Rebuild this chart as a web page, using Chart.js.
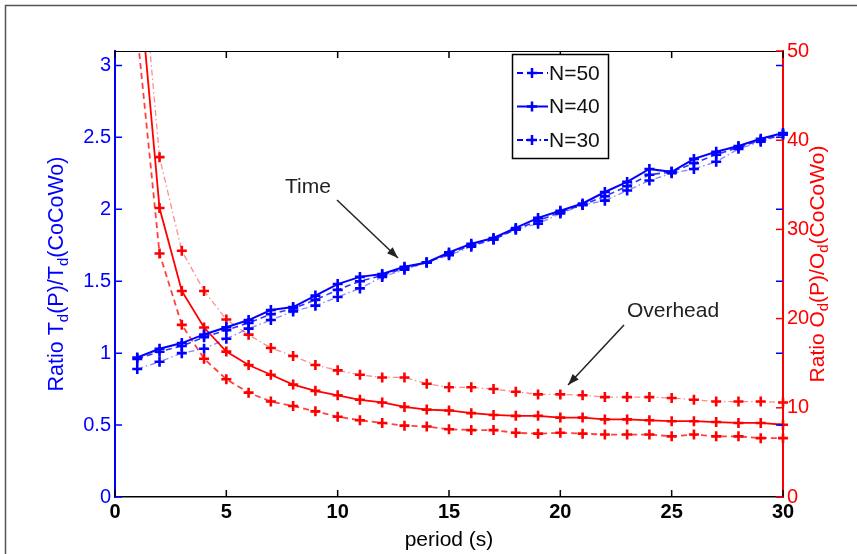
<!DOCTYPE html>
<html>
<head>
<meta charset="utf-8">
<script src="https://cdn.jsdelivr.net/npm/chart.js@4.4.1/dist/chart.umd.min.js"></script>
<style>
  html, body { margin: 0; padding: 0; background: #fff; }
  #wrap { width: 857px; height: 554px; position: relative; }
</style>
</head>
<body>
<div id="wrap"><canvas id="grafico"></canvas></div>
<script>
// --- DATOS ---
const periods = [1, 2, 3, 4, 5, 6, 7, 8, 9, 10, 11, 12, 13, 14, 15, 16, 17, 18, 19, 20, 21, 22, 23, 24, 25, 26, 27, 28, 29, 30];
const seriesNames = ['N=50', 'N=40', 'N=30'];

// ratio of time (left axis)
const timeN50 = [0.96, 1.01, 1.05, 1.11, 1.16, 1.21, 1.27, 1.31, 1.37, 1.44, 1.50, 1.54, 1.59, 1.63, 1.69, 1.75, 1.79, 1.86, 1.92, 1.98, 2.03, 2.09, 2.16, 2.24, 2.26, 2.32, 2.38, 2.43, 2.48, 2.52];
const timeN40 = [0.97, 1.03, 1.07, 1.13, 1.18, 1.23, 1.30, 1.32, 1.40, 1.48, 1.53, 1.55, 1.60, 1.63, 1.70, 1.76, 1.80, 1.87, 1.94, 1.99, 2.04, 2.12, 2.19, 2.28, 2.26, 2.35, 2.40, 2.44, 2.49, 2.53];
const timeN30 = [0.89, 0.94, 1.00, 1.03, 1.10, 1.17, 1.23, 1.29, 1.33, 1.39, 1.45, 1.53, 1.58, 1.63, 1.68, 1.74, 1.79, 1.86, 1.90, 1.97, 2.03, 2.06, 2.13, 2.20, 2.25, 2.28, 2.33, 2.42, 2.47, 2.52];

// ratio of overhead (right axis)
const overN50 = [52, 27.3, 19.3, 15.5, 13.2, 11.7, 10.7, 10.2, 9.6, 9.0, 8.6, 8.3, 8.0, 7.9, 7.6, 7.5, 7.5, 7.2, 7.1, 7.2, 7.1, 7.0, 7.0, 7.0, 6.8, 7.0, 6.8, 6.8, 6.6, 6.6];
const overN40 = [60, 32.4, 23.1, 19.0, 16.3, 14.8, 13.7, 12.6, 11.9, 11.4, 10.9, 10.6, 10.1, 9.8, 9.7, 9.4, 9.2, 9.1, 9.1, 8.9, 8.9, 8.7, 8.7, 8.6, 8.5, 8.5, 8.4, 8.3, 8.3, 8.1];
const overN30 = [66, 38.1, 27.6, 23.1, 19.9, 18.2, 16.7, 15.8, 14.8, 14.2, 13.7, 13.4, 13.4, 12.7, 12.3, 12.3, 12.1, 11.8, 11.5, 11.5, 11.4, 11.2, 11.2, 11.2, 11.1, 10.9, 10.7, 10.7, 10.7, 10.6];

const xTicks = [0, 5, 10, 15, 20, 25, 30];
const leftTicks = [0, 0.5, 1, 1.5, 2, 2.5, 3];
const rightTicks = [0, 10, 20, 30, 40, 50];

const AZUL = '#0000ff';
const ROJO = '#ff0000';
const FUENTE = '"Liberation Sans", Arial, Helvetica, sans-serif';

const DASHED = [6, 4];
const DASHDOT = [6, 3, 1.5, 3];

function pares(valores) {
    return periods.map((p, i) => ({ x: p, y: valores[i] }));
}

function serie(label, valores, eje, color, lineColor, dash, width) {
    return {
        label: label,
        data: pares(valores),
        yAxisID: eje,
        borderColor: lineColor,
        borderWidth: width,
        borderDash: dash,
        pointStyle: 'cross',
        pointRadius: 5,
        pointBorderWidth: 2.6,
        pointBorderColor: color,
        pointBackgroundColor: color,
        fill: false,
        tension: 0,
        clip: { left: 10, right: 10, top: 0, bottom: 10 }
    };
}

const datasets = [
    serie(seriesNames[0], timeN50, 'yL', AZUL, 'rgba(0,0,255,0.8)', DASHED, 1.6),
    serie(seriesNames[1], timeN40, 'yL', AZUL, AZUL, [], 2),
    serie(seriesNames[2], timeN30, 'yL', AZUL, 'rgba(0,0,255,0.45)', DASHDOT, 1.4),
    serie(seriesNames[0] + ' overhead', overN50, 'yR', ROJO, 'rgba(255,0,0,0.75)', DASHED, 1.8),
    serie(seriesNames[1] + ' overhead', overN40, 'yR', ROJO, ROJO, [], 1.8),
    serie(seriesNames[2] + ' overhead', overN30, 'yR', ROJO, 'rgba(255,0,0,0.45)', DASHDOT, 1.3)
];

// texto con subíndices
function textoSub(ctx, partes, size) {
    let total = 0;
    partes.forEach(([t, sub]) => {
        ctx.font = (sub ? Math.round(size * 0.7) : size) + 'px ' + FUENTE;
        total += ctx.measureText(t).width;
    });
    let x = -total / 2;
    partes.forEach(([t, sub]) => {
        ctx.font = (sub ? Math.round(size * 0.7) : size) + 'px ' + FUENTE;
        ctx.fillText(t, x, sub ? size * 0.3 : 0);
        x += ctx.measureText(t).width;
    });
}

function flecha(ctx, x1, y1, x2, y2) {
    const ang = Math.atan2(y2 - y1, x2 - x1);
    ctx.beginPath();
    ctx.moveTo(x1, y1);
    ctx.lineTo(x2, y2);
    ctx.stroke();
    ctx.beginPath();
    ctx.moveTo(x2, y2);
    ctx.lineTo(x2 - 12 * Math.cos(ang - 0.35), y2 - 12 * Math.sin(ang - 0.35));
    ctx.lineTo(x2 - 12 * Math.cos(ang + 0.35), y2 - 12 * Math.sin(ang + 0.35));
    ctx.closePath();
    ctx.fill();
}

const extras = {
    id: 'extras',
    afterDraw(chart) {
        const ctx = chart.ctx;
        const a = chart.chartArea;
        const sx = chart.scales.x, sl = chart.scales.yL, sr = chart.scales.yR;
        ctx.save();

        // marco exterior
        ctx.strokeStyle = '#555';
        ctx.lineWidth = 1.5;
        ctx.strokeRect(5.5, 5.5, 900, 600);

        // borde superior del gráfico
        ctx.strokeStyle = '#000';
        ctx.lineWidth = 1.2;
        ctx.beginPath();
        ctx.moveTo(a.left, a.top + 0.5);
        ctx.lineTo(a.right, a.top + 0.5);
        ctx.stroke();

        // marcas hacia dentro
        const L = 7;
        ctx.lineWidth = 1.5;
        ctx.strokeStyle = '#000';
        xTicks.forEach(v => {
            const px = sx.getPixelForValue(v);
            ctx.beginPath();
            ctx.moveTo(px, a.bottom); ctx.lineTo(px, a.bottom - L);
            ctx.moveTo(px, a.top); ctx.lineTo(px, a.top + L);
            ctx.stroke();
        });
        ctx.strokeStyle = AZUL;
        leftTicks.forEach(v => {
            const py = sl.getPixelForValue(v);
            ctx.beginPath();
            ctx.moveTo(a.left, py); ctx.lineTo(a.left + L, py);
            ctx.moveTo(a.right, py); ctx.lineTo(a.right - L, py);
            ctx.stroke();
        });
        ctx.strokeStyle = ROJO;
        rightTicks.forEach(v => {
            const py = sr.getPixelForValue(v);
            ctx.beginPath();
            ctx.moveTo(a.right, py); ctx.lineTo(a.right - L, py);
            ctx.stroke();
        });

        // títulos de ejes
        ctx.textBaseline = 'middle';
        ctx.fillStyle = AZUL;
        ctx.save();
        ctx.translate(57, (a.top + a.bottom) / 2);
        ctx.rotate(-Math.PI / 2);
        textoSub(ctx, [['Ratio T', 0], ['d', 1], ['(P)/T', 0], ['d', 1], ['(CoCoWo)', 0]], 21.5);
        ctx.restore();

        ctx.fillStyle = ROJO;
        ctx.save();
        ctx.translate(818, (a.top + a.bottom) / 2 - 10);
        ctx.rotate(-Math.PI / 2);
        textoSub(ctx, [['Ratio O', 0], ['d', 1], ['(P)/O', 0], ['d', 1], ['(CoCoWo)', 0]], 21);
        ctx.restore();

        ctx.fillStyle = '#000';
        ctx.textAlign = 'center';
        ctx.font = '21px ' + FUENTE;
        ctx.fillText('period (s)', (a.left + a.right) / 2, 540);

        // anotaciones
        ctx.fillStyle = '#222';
        ctx.fillText('Time', 308, 187);
        ctx.fillText('Overhead', 673, 311);
        ctx.strokeStyle = '#222';
        ctx.lineWidth = 1.5;
        flecha(ctx, 337, 200, 398, 258);
        flecha(ctx, 624, 325, 568, 385);

        // leyenda
        const lx = 512, ly = 54, lw = 96, lh = 104;
        ctx.fillStyle = '#fff';
        ctx.fillRect(lx, ly, lw, lh);
        ctx.strokeStyle = '#000';
        ctx.lineWidth = 1.5;
        ctx.strokeRect(lx + 0.5, ly + 0.5, lw, lh);
        ctx.textAlign = 'left';
        [0, 1, 2].forEach(i => {
            const ds = chart.data.datasets[i];
            const y = ly + 19 + i * 33.5;
            ctx.strokeStyle = AZUL;
            ctx.lineWidth = 2;
            ctx.setLineDash(ds.borderDash);
            ctx.beginPath();
            ctx.moveTo(lx + 5, y); ctx.lineTo(lx + 36, y);
            ctx.stroke();
            ctx.setLineDash([]);
            ctx.lineWidth = 2.5;
            ctx.beginPath();
            ctx.moveTo(lx + 15, y); ctx.lineTo(lx + 25, y);
            ctx.moveTo(lx + 20, y - 5); ctx.lineTo(lx + 20, y + 5);
            ctx.stroke();
            ctx.fillStyle = '#111';
            ctx.font = '21px ' + FUENTE;
            ctx.fillText(ds.label, lx + 37, y + 1);
        });

        ctx.restore();
    }
};

const ctx = document.getElementById('grafico').getContext('2d');
const miGrafico = new Chart(ctx, {
    type: 'line',
    data: { datasets: datasets },
    options: {
        responsive: true,
        maintainAspectRatio: false,
        animation: false,
        layout: { padding: { top: 51, left: 0, right: 0, bottom: 0 } },
        plugins: {
            legend: { display: false },
            tooltip: { enabled: false }
        },
        scales: {
            x: {
                type: 'linear',
                position: 'bottom',
                min: 0,
                max: 30,
                afterFit: s => { s.height = 57; },
                afterBuildTicks: s => { s.ticks = xTicks.map(v => ({ value: v })); },
                ticks: {
                    color: '#000',
                    padding: 3,
                    font: { family: FUENTE, size: 20, weight: 'bold' }
                },
                grid: { display: false, drawTicks: false },
                border: { color: '#000', width: 1.5 }
            },
            yL: {
                position: 'left',
                min: 0,
                max: 3.1,
                afterFit: s => { s.width = 115; },
                afterBuildTicks: s => { s.ticks = leftTicks.map(v => ({ value: v })); },
                ticks: {
                    color: AZUL,
                    padding: 4,
                    font: { family: FUENTE, size: 20 },
                    callback: v => String(v)
                },
                grid: { display: false, drawTicks: false },
                border: { color: AZUL, width: 2 }
            },
            yR: {
                position: 'right',
                min: 0,
                max: 50,
                afterFit: s => { s.width = 74; },
                afterBuildTicks: s => { s.ticks = rightTicks.map(v => ({ value: v })); },
                ticks: {
                    color: ROJO,
                    padding: 4,
                    font: { family: FUENTE, size: 20 }
                },
                grid: { display: false, drawTicks: false },
                border: { color: ROJO, width: 2 }
            }
        }
    },
    plugins: [extras]
});
</script>
</body>
</html>
